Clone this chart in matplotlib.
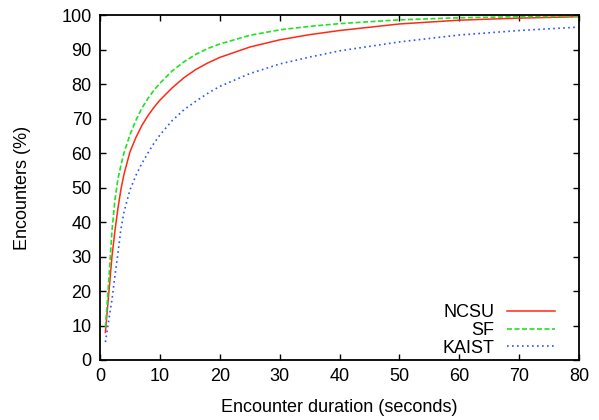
import matplotlib
matplotlib.use("Agg")
import matplotlib.pyplot as plt

plt.rcParams['font.family'] = ['Liberation Sans', 'DejaVu Sans']

x_vals = [0.9, 1.2, 1.5, 2, 2.5, 3, 3.5, 4, 5, 6, 7, 8, 9, 10, 12, 14, 16, 18, 20, 25, 30, 35, 40, 50, 60, 70, 80]
ncsu = [8, 14, 20, 30, 37.5, 44, 49.5, 53.8, 60.3, 64.5, 68, 70.8, 73.2, 75.3, 78.8, 81.8, 84.2, 86.1, 87.7, 90.7, 92.8, 94.3, 95.5, 97.4, 98.5, 99.1, 99.5]
sf = [9.5, 16.5, 24, 37.5, 46.5, 52.5, 56.5, 60, 65.3, 69.5, 73, 75.8, 78.2, 80.2, 83.7, 86.4, 88.6, 90.3, 91.6, 94.1, 95.7, 96.7, 97.5, 98.6, 99.2, 99.5, 99.7]
kaist = [5.2, 8.5, 12, 17.5, 24.5, 31, 38, 42.8, 49.3, 53.5, 57, 60, 62.8, 65.2, 69.3, 72.5, 75, 77.3, 79.3, 83, 85.8, 87.8, 89.6, 92.2, 94.2, 95.5, 96.5]

x_ticks = [0, 10, 20, 30, 40, 50, 60, 70, 80]
y_ticks = [0, 10, 20, 30, 40, 50, 60, 70, 80, 90, 100]

fig = plt.figure(figsize=(5.99, 4.2), dpi=100)
ax = fig.add_axes([100/599, 60/420, 479/599, 345/420])

ax.plot(x_vals, ncsu, color='#ff2a14', lw=1.1, label='NCSU')
ax.plot(x_vals, sf, color='#22e022', lw=1.2, ls=(0, (3, 1.5)), label='SF')
ax.plot(x_vals, kaist, color='#2a55ff', lw=1.2, ls=(0, (1, 2)), label='KAIST')

ax.set_xlim(0, 80)
ax.set_ylim(0, 100)
ax.set_xticks(x_ticks)
ax.set_yticks(y_ticks)
ax.tick_params(direction='in', length=4, width=1, top=True, right=True, labelsize=13, pad=6)
for s in ax.spines.values():
    s.set_linewidth(1.3)

ax.set_xlabel('Encounter duration (seconds)', fontsize=13, labelpad=10)
ax.set_ylabel('Encounters (%)', fontsize=13, labelpad=22)

leg = ax.legend(loc='lower right', frameon=False, markerfirst=False, fontsize=13,
                handlelength=2.65, labelspacing=0.05, handletextpad=0.7,
                borderaxespad=0.5, bbox_to_anchor=(1 - 8/479, -13/345))
for t in leg.get_texts():
    t.set_ha('right')

fig.savefig('out.png', dpi=100)
